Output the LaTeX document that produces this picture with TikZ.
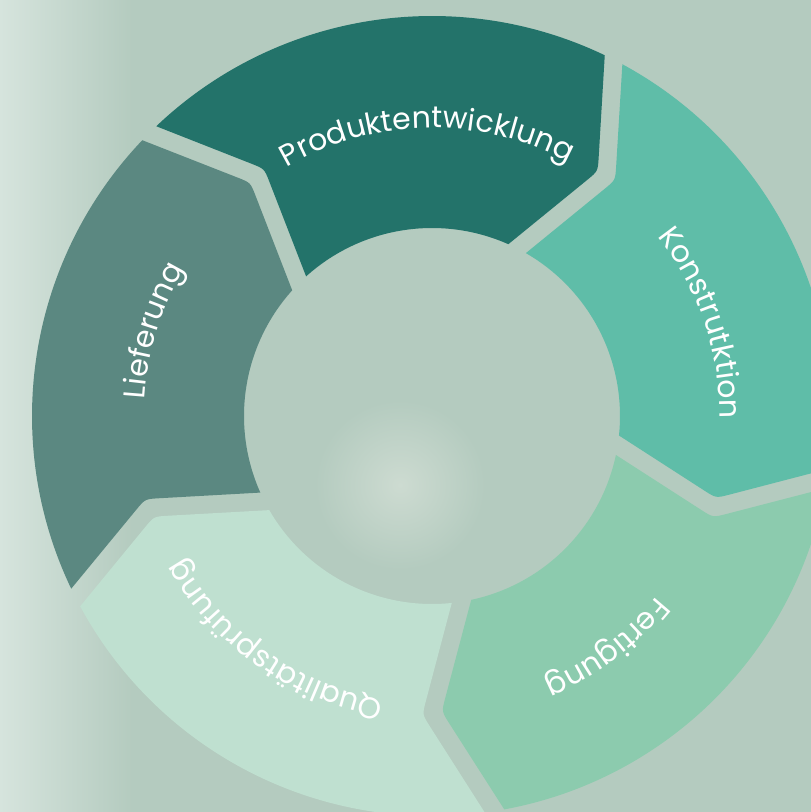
\documentclass[tikz,border=0pt]{standalone}
\usepackage{fontspec}
\setmainfont{Poppins}
\usetikzlibrary{calc}
\usetikzlibrary{decorations.text}
\definecolor{bggreen}{RGB}{180,203,191}
\definecolor{bglight}{RGB}{214,228,221}
\definecolor{blobgrey}{RGB}{205,219,209}
\definecolor{produkt}{RGB}{35,115,106}
\definecolor{konstrukt}{RGB}{95,189,168}
\definecolor{fertig}{RGB}{140,203,174}
\definecolor{quali}{RGB}{191,224,208}
\definecolor{liefer}{RGB}{91,136,129}
\begin{document}
\begin{tikzpicture}[x=1pt,y=1pt,
  ringpart/.style={fill=#1},
  ringtext/.style={decorate,decoration={text along path,text align=center,
    text={|\fontsize{30}{30}\selectfont\color{white}|#1}}}]
 \useasboundingbox (-432,-396) rectangle (379,416);
 \clip (-432,-396) rectangle (379,416);
 % background
 \fill[bggreen] (-432,-396) rectangle (379,416);
 \shade[left color=bglight,right color=bggreen] (-432,-396) rectangle (-300,416);
 \shade[inner color=blobgrey,outer color=bggreen] (-32,-69) circle (85);
 % the five parts of the ring, clockwise
 \foreach \ang/\col/\txt/\nm in {99/produkt/Produktentwicklung/prod,
   27/konstrukt/Konstrutktion/kon, -45/fertig/Fertigung/fert,
   -117/quali/Qualitätsprüfung/qual, -189/liefer/Lieferung/lief}{
  \begin{scope}[rotate=\ang]
   \coordinate (\nm-os) at (34.58:400);
   \coordinate (\nm-ns) at (270.4,126.9);
   \coordinate (\nm-is) at (33.04:188);
   \coordinate (\nm-oe) at (-34.59:400);
   \coordinate (\nm-te) at (215.8,-202.1);
   \coordinate (\nm-ie) at (-32.96:188);
   \fill[ringpart=\col] (\nm-os) arc[start angle=34.58,end angle=-34.59,radius=400]
     -- ($(\nm-te)!14pt!(\nm-oe)$) .. controls (\nm-te) .. ($(\nm-te)!14pt!(\nm-ie)$)
     -- (\nm-ie) arc[start angle=-32.96,end angle=33.04,radius=188]
     -- ($(\nm-ns)!14pt!(\nm-is)$) .. controls (\nm-ns) .. ($(\nm-ns)!14pt!(\nm-os)$)
     -- cycle;
   \path[ringtext=\txt] (27:288) arc[start angle=27,end angle=-43,radius=288];
  \end{scope}
 }
\end{tikzpicture}
\end{document}
